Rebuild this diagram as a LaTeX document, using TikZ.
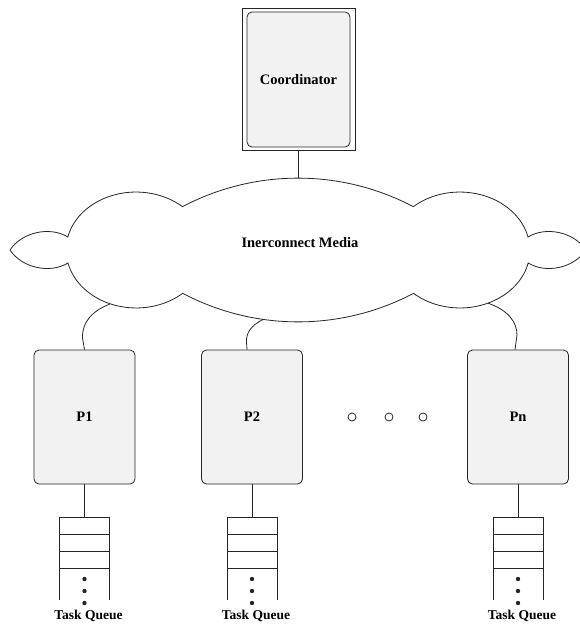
\documentclass[tikz,border=0pt]{standalone}
\usepackage{fontspec}
\setmainfont{Liberation Serif}
\usetikzlibrary{calc}
\definecolor{boxfill}{HTML}{F2F2F2}
\definecolor{linec}{HTML}{262626}
\begin{document}
\begin{tikzpicture}[x=1pt,y=-1pt,
  line width=0.8pt, draw=linec,
  every node/.style={font=\fontsize{14.5}{17}\selectfont\bfseries, inner sep=0pt},
  procbox/.style={draw=linec, fill=boxfill, rounded corners=5pt, minimum width=101pt, minimum height=134pt},
  qlabel/.style={font=\fontsize{13.5}{16}\selectfont\bfseries},
  hollowdot/.style={draw=linec, circle, minimum size=8pt, line width=0.8pt},
  conn/.style={draw=linec, line width=0.8pt}]
\useasboundingbox (0,0) rectangle (579,624);

% Coordinator
\node[draw=linec, minimum width=113pt, minimum height=142pt] (coordout) at (298.5,79) {};
\node[procbox, minimum width=103pt, minimum height=135pt] (coord) at (298.5,79.5) {Coordinator};

% Cloud
\draw[fill=white] (10,250)
  .. controls (22,232) and (50,226) .. (67.8,237)
  arc[start angle=193, end angle=311.6, x radius=70, y radius=58]
  arc[start angle=242.2, end angle=297.8, radius=247.5]
  arc[start angle=228.4, end angle=347, x radius=70, y radius=58]
  .. controls (546,226) and (574,232) .. (586,250)
  .. controls (574,268) and (546,274) .. (528.2,263)
  arc[start angle=13, end angle=131.6, x radius=70, y radius=58]
  arc[start angle=62.2, end angle=117.8, radius=247.5]
  arc[start angle=48.4, end angle=167, x radius=70, y radius=58]
  .. controls (50,274) and (22,268) .. (10,250) -- cycle;
\node (media) at (300,243) {Inerconnect Media};
\coordinate (ctop) at (298.5,178);
\coordinate (c1) at (110,304);
\coordinate (c2) at (263,319.5);
\coordinate (cn) at (488,303.2);

\draw[conn] (coordout.south) -- (ctop);

% Processors
\node[procbox] (p1) at (84.5,417) {P1};
\node[procbox] (p2) at (252,417) {P2};
\node[procbox] (pn) at (518,417) {Pn};

\node[hollowdot] (d1) at (352,417) {};
\node[hollowdot] (d2) at (389,417) {};
\node[hollowdot] (d3) at (423,417) {};

% Connectors cloud -> processors
\draw[conn] (c1) .. controls (92,311) and (82,322) .. (82.5,338) -- (p1.north);
\draw[conn] (c2) .. controls (252,325) and (246,332) .. (246.5,342) -- ($(p2.north)+(-5,0)$);
\draw[conn] (cn) .. controls (508,310) and (517,322) .. (517,335) -- ($(pn.north)+(-3,0)$);

% Task queues
\foreach \nm/\xx in {q1/84.5, q2/252, qn/518}{
  \coordinate (\nm) at (\xx,517);
  \draw[conn] (\xx-25,600) -- (\xx-25,517) -- (\xx+25,517) -- (\xx+25,600);
  \draw[conn] (\xx-25,534) -- (\xx+25,534);
  \draw[conn] (\xx-25,551) -- (\xx+25,551);
  \draw[conn] (\xx-25,568) -- (\xx+25,568);
  \fill[linec] (\xx,579) circle[radius=2.2];
  \fill[linec] (\xx,591) circle[radius=2.2];
  \fill[linec] (\xx,603) circle[radius=2.2];
  \node[qlabel] (\nm lab) at (\xx+4,616) {Task Queue};
}
\draw[conn] (p1.south) -- (q1);
\draw[conn] (p2.south) -- (q2);
\draw[conn] (pn.south) -- (qn);
\end{tikzpicture}
\end{document}
